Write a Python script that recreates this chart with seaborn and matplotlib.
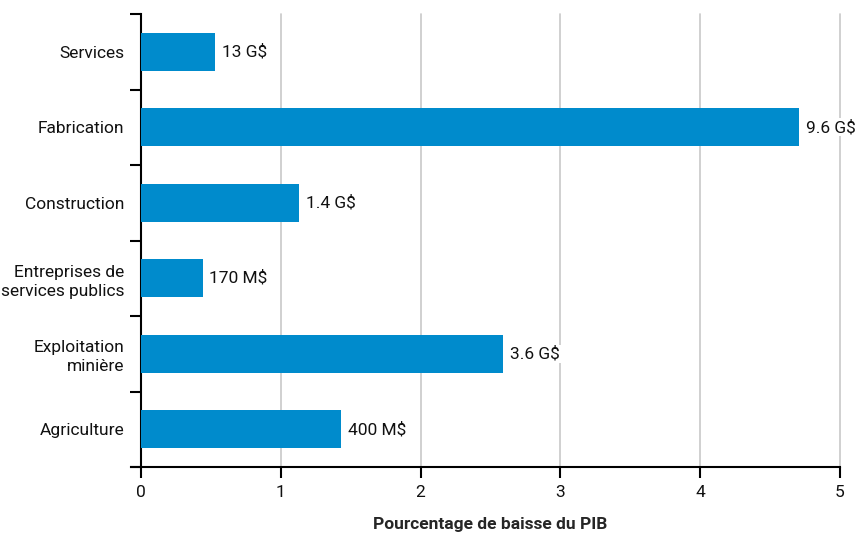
import matplotlib
matplotlib.use("Agg")
import matplotlib.pyplot as plt
import seaborn as sns
import pandas as pd
import numpy as np

sectors = ["Services", "Fabrication", "Construction",
           "Entreprises de\nservices publics", "Exploitation\nminière", "Agriculture"]
pct_drop = [0.53, 4.71, 1.13, 0.44, 2.59, 1.43]
value_labels = ["13 G$", "9.6 G$", "1.4 G$", "170 M$", "3.6 G$", "400 M$"]
x_ticks = [0, 1, 2, 3, 4, 5]

sns.set_style("white")
plt.rcParams["font.family"] = ["Roboto", "DejaVu Sans"]
plt.rcParams["text.color"] = "#111111"
plt.rcParams["xtick.color"] = "black"
plt.rcParams["ytick.color"] = "black"

FS = 12.5

df = pd.DataFrame({"secteur": sectors, "baisse": pct_drop})

fig = plt.figure(figsize=(8.58, 5.35), dpi=100)
ax = fig.add_axes([141 / 858, 68 / 535, 699 / 858, 453 / 535])

sns.barplot(data=df, x="baisse", y="secteur", orient="h", color="#008BCC",
            width=0.5, saturation=1, linewidth=0, ax=ax, zorder=3)

ax.set_xlim(0, 5)
ax.set_ylim(5.5, -0.5)
ax.set_xticks(x_ticks)
ax.set_xticklabels([str(t) for t in x_ticks], fontsize=FS, color="#111111")
ax.grid(axis="x", color="#c8c8c8", linewidth=1.2, zorder=0)
ax.set_axisbelow(True)
for gl in ax.get_xgridlines():
    gl.set_clip_on(False)

# category boundary ticks on the left axis
ax.set_yticks(np.arange(-0.5, len(sectors)), minor=True)
ax.tick_params(axis="y", which="minor", direction="out", length=8, width=1.5, color="black", left=True)
ax.tick_params(axis="y", which="major", length=0, pad=12, labelsize=FS, labelcolor="#111111")
ax.tick_params(axis="x", which="major", direction="out", length=8, width=1.5, color="black",
               bottom=True, pad=5)
for lab in ax.get_yticklabels():
    lab.set_horizontalalignment("right")
    lab.set_multialignment("right")
    lab.set_linespacing(1.35)

for side in ["top", "right"]:
    ax.spines[side].set_visible(False)
for side in ["left", "bottom"]:
    ax.spines[side].set_color("black")
    ax.spines[side].set_linewidth(1.5)
ax.spines["bottom"].set_bounds(-0.07, 5)
ax.spines["bottom"].set_clip_on(False)

ax.set_ylabel("")
ax.set_xlabel("Pourcentage de baisse du PIB", fontsize=FS, fontweight="bold", labelpad=12)

for i, (v, txt) in enumerate(zip(pct_drop, value_labels)):
    ax.annotate(txt, xy=(v, i), xytext=(5, 0), textcoords="offset points",
                va="center", ha="left", fontsize=FS, zorder=4,
                bbox=dict(facecolor="white", edgecolor="none", pad=1))

fig.savefig("out.png", dpi=100)
